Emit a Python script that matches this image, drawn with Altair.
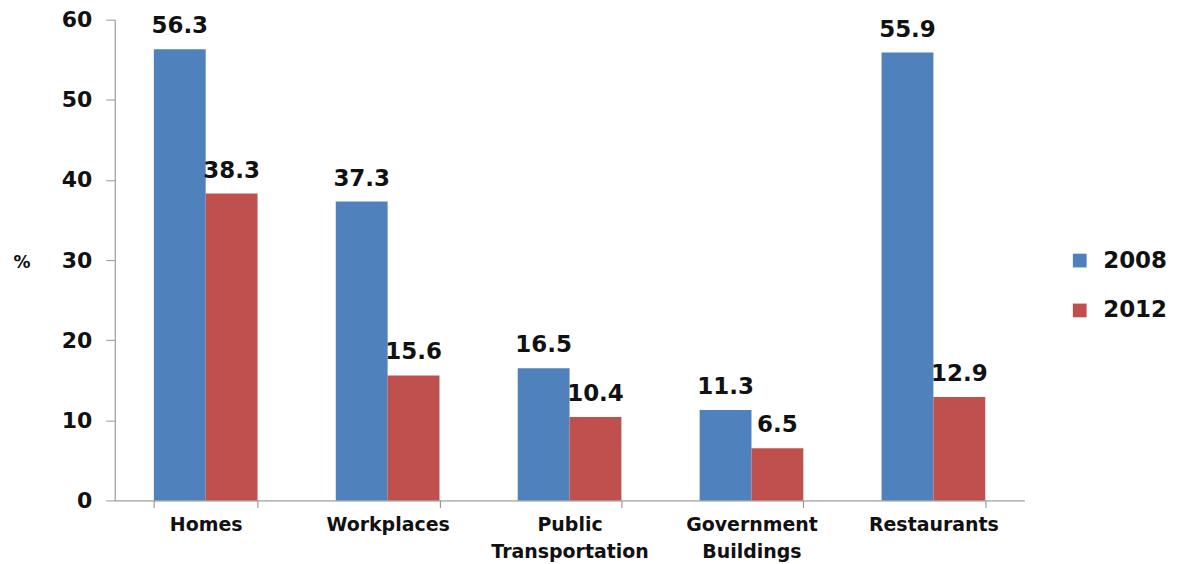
import altair as alt
import pandas as pd

categories = ["Homes", "Workplaces", "Public|Transportation", "Government|Buildings", "Restaurants"]
years = ["2008", "2012"]
values_2008 = [56.3, 37.3, 16.5, 11.3, 55.9]
values_2012 = [38.3, 15.6, 10.4, 6.5, 12.9]

rows = []
for c, a, b in zip(categories, values_2008, values_2012):
    rows.append({"place": c, "year": "2008", "pct": a})
    rows.append({"place": c, "year": "2012", "pct": b})
df = pd.DataFrame(rows)

FONT = "DejaVu Sans"

x = alt.X("place:N", sort=categories,
          scale=alt.Scale(paddingInner=0.43, paddingOuter=0.215),
          axis=alt.Axis(title=None, labelAngle=0, labelExpr="split(datum.label, '|')",
                        labelFont=FONT, labelFontWeight="bold", labelFontSize=19,
                        labelColor="#111", labelPadding=8, labelLineHeight=27,
                        tickBand="extent", tickSize=7, tickColor="#888",
                        domainColor="#888", domainWidth=1))
y = alt.Y("pct:Q", scale=alt.Scale(domain=[0, 60], nice=False),
          axis=alt.Axis(values=[0, 10, 20, 30, 40, 50, 60], grid=False,
                        title="%", titleAngle=0, titleX=-102, titleY=252, titleAlign="left",
                        titleFont=FONT, titleFontWeight="bold", titleFontSize=17, titleColor="#111",
                        labelFont=FONT, labelFontWeight="bold", labelFontSize=22,
                        labelColor="#111", labelPadding=14,
                        tickSize=9, tickColor="#999", domainColor="#888"))
color = alt.Color("year:N", scale=alt.Scale(domain=years, range=["#4F81BD", "#C0504D"]),
                  legend=alt.Legend(title=None, orient="none", legendX=956, legendY=230,
                                    symbolType="square", symbolSize=190, symbolStrokeWidth=0,
                                    labelFont=FONT, labelFontWeight="bold", labelFontSize=23,
                                    labelColor="#111", rowPadding=26, labelOffset=12))

base = alt.Chart(df).encode(x=x, xOffset=alt.XOffset("year:N", sort=years), y=y)
bars = base.mark_bar().encode(color=color)
text = base.mark_text(baseline="alphabetic", dy=-16, font=FONT, fontWeight="bold",
                      fontSize=23, color="#111").encode(text=alt.Text("pct:Q", format=".1f"))

chart = (bars + text).properties(width=912, height=482, background="white",
                                 padding={"left": 5, "top": 0, "right": 2, "bottom": 0}
                                 ).configure_view(strokeWidth=0)
chart.save("out.html", embed_options={"renderer": "svg", "actions": False})
